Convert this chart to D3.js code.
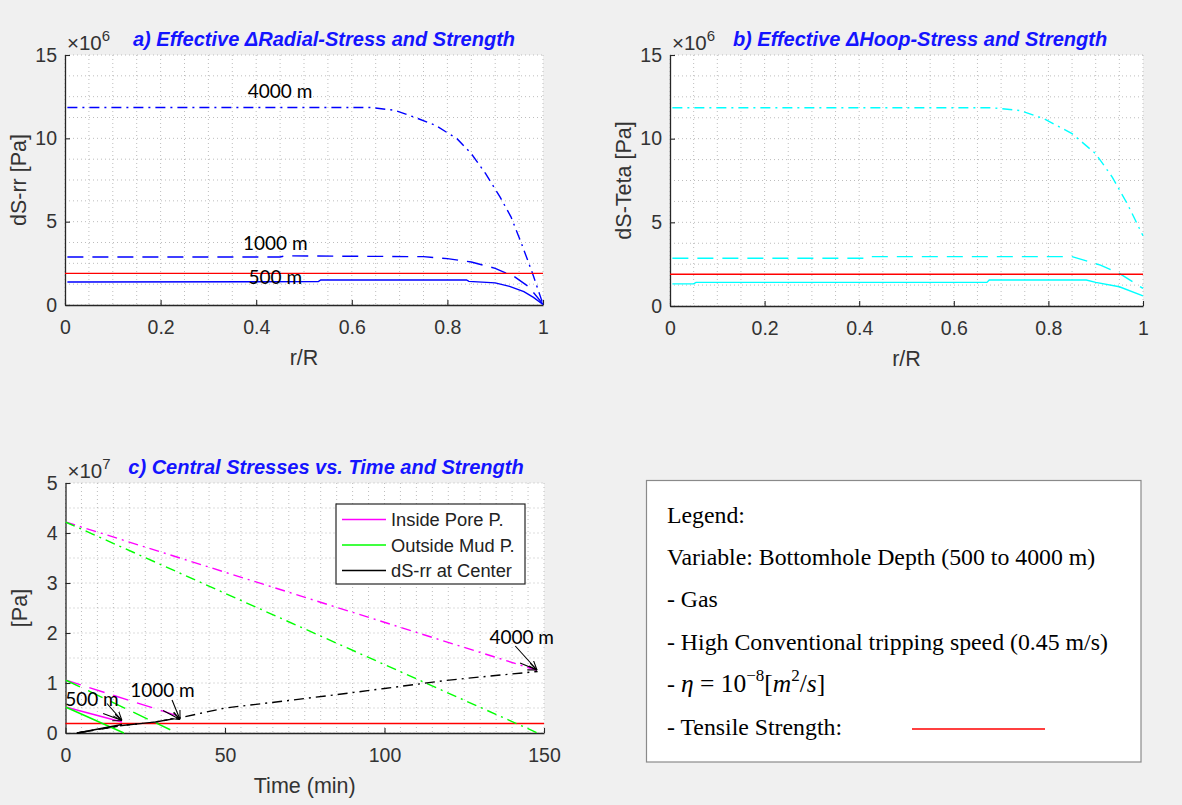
<!DOCTYPE html>
<html><head><meta charset="utf-8">
<script src="https://cdn.jsdelivr.net/npm/d3@7"></script>
<style>body{margin:0;background:#f0f0f0;} svg{display:block}</style>
</head><body><svg id="chart" width="1182" height="805"></svg>
<script>
// ---------- DATA ----------
// Panel a: effective delta radial stress (x1e6 Pa) vs r/R
const rRad4000 = [0.005, 0.64, 0.69, 0.73, 0.775, 0.82, 0.85, 0.88, 0.91, 0.933, 0.955, 0.978, 1.0];
const sRad4000 = [11.85, 11.85, 11.68, 11.28, 10.78, 9.98, 9.08, 7.88, 6.49, 5.29, 3.69, 1.9, 0.05];
const rRad1000 = [0.005, 0.45, 0.46, 0.75, 0.8, 0.85, 0.9, 0.94, 0.97, 1.0];
const sRad1000 = [2.88, 2.88, 2.95, 2.9, 2.78, 2.58, 2.2, 1.7, 1.1, 0.05];
const rRad500  = [0.005, 0.53, 0.535, 0.84, 0.845, 0.9, 0.93, 0.96, 0.98, 1.0];
const sRad500  = [1.38, 1.40, 1.50, 1.50, 1.42, 1.33, 1.12, 0.80, 0.46, 0.03];
// Panel b: effective delta hoop stress (x1e6 Pa) vs r/R
const rHoop4000 = [0.005, 0.68, 0.74, 0.79, 0.85, 0.9, 0.935, 0.967, 1.0];
const sHoop4000 = [11.85, 11.85, 11.68, 11.2, 10.3, 9.1, 7.7, 6.1, 4.2];
const rHoop1000 = [0.005, 0.42, 0.425, 0.85, 0.875, 0.91, 0.95, 1.0];
const sHoop1000 = [2.85, 2.85, 2.95, 2.95, 2.74, 2.44, 1.95, 1.05];
const rHoop500  = [0.005, 0.05, 0.055, 0.67, 0.675, 0.88, 0.9, 0.95, 1.0];
const sHoop500  = [1.32, 1.32, 1.41, 1.41, 1.55, 1.55, 1.41, 1.15, 0.6];
// Tensile strength (x1e6 Pa)
const tensileStrength = 1.9;
// Panel c: central stresses (x1e7 Pa) vs time (min)
const tPore4000 = [0, 148];   const pPore4000 = [4.22, 1.25];
const tMud4000  = [0, 148];   const pMud4000  = [4.22, 0];
const tRr4000 = [3.5, 17.7, 28.2, 36.3, 50, 70, 84, 100, 119, 130, 148];
const pRr4000 = [0, 0.15, 0.22, 0.31, 0.5, 0.65, 0.76, 0.89, 1.05, 1.12, 1.23];
const tPore1000 = [0, 36.3];  const pPore1000 = [1.06, 0.32];
const tMud1000  = [0, 35];    const pMud1000  = [1.06, 0];
const tRr1000 = [3.7, 17.7, 28.2, 36];  const pRr1000 = [0, 0.15, 0.22, 0.31];
const tPore500 = [0, 17.7];   const pPore500 = [0.52, 0.22];
const tMud500  = [0, 18.3];   const pMud500  = [0.52, 0];
const tRr500 = [3.7, 17.7];   const pRr500 = [0, 0.17];
// Ticks
const rTicks = [0, 0.2, 0.4, 0.6, 0.8, 1];
const stressTicks = [0, 5, 10, 15];
const timeTicks = [0, 50, 100, 150];
const paTicks = [0, 1, 2, 3, 4, 5];
const legendEntries = ["Inside Pore P.", "Outside Mud P.", "dS-rr at Center"];
const depthLabels = ["500 m", "1000 m", "4000 m"];

// ---------- DRAWING ----------
const svg = d3.select("#chart");
svg.append("rect").attr("width", 1182).attr("height", 805).attr("fill", "#f0f0f0");
const AX = "#262626";
const TXT = "#333";
const FONT = "'Liberation Sans', Arial, sans-serif";
const DASH = {solid: null, dashed: "16,9", dashdot: "10,5,2,5"};

function zip(xs, ys) { return xs.map((x, i) => [x, ys[i]]); }

function panel(o) {
  const g = svg.append("g");
  const x = d3.scaleLinear().domain(o.xd).range([o.l, o.r]);
  const y = d3.scaleLinear().domain(o.yd).range([o.b, o.t]);
  g.append("rect").attr("x", o.l).attr("y", o.t).attr("width", o.r - o.l).attr("height", o.b - o.t).attr("fill", "#fff");
  const grid = g.append("g").attr("stroke", "#b5b5b5").attr("stroke-width", 0.9).attr("stroke-dasharray", "1,3");
  d3.range(o.xd[0], o.xd[1] + o.xm / 2, o.xm).forEach(v => {
    grid.append("line").attr("x1", x(v)).attr("x2", x(v)).attr("y1", o.t).attr("y2", o.b);
  });
  d3.range(o.yd[0], o.yd[1] + o.ym / 2, o.ym).forEach(v => {
    grid.append("line").attr("x1", o.l).attr("x2", o.r).attr("y1", y(v)).attr("y2", y(v));
  });
  const xa = g.append("g").attr("transform", `translate(0,${o.b})`)
    .call(d3.axisBottom(x).tickValues(o.xt).tickSizeInner(-5).tickSizeOuter(0).tickPadding(15).tickFormat(d => String(d)));
  const ya = g.append("g").attr("transform", `translate(${o.l},0)`)
    .call(d3.axisLeft(y).tickValues(o.yt).tickSizeInner(-5).tickSizeOuter(0).tickPadding(8).tickFormat(d => String(d)));
  [xa, ya].forEach(a => {
    a.select(".domain").attr("stroke", AX).attr("stroke-width", 1.3);
    a.selectAll(".tick line").attr("stroke", AX).attr("stroke-width", 1.1);
    a.selectAll(".tick text").attr("fill", TXT).attr("font-size", 19.5).attr("font-family", FONT);
  });
  // exponent
  const ex = g.append("text").attr("x", o.l + 2).attr("y", o.t - 5).attr("fill", TXT)
    .attr("font-family", FONT).attr("font-size", 20.5);
  ex.append("tspan").text("×10");
  ex.append("tspan").attr("dy", -9).attr("font-size", 15).text(o.exp);
  // title
  g.append("text").attr("x", o.tx).attr("y", o.t - 9).attr("text-anchor", "middle")
    .attr("fill", "#1414ff").attr("font-family", FONT).attr("font-size", 20)
    .attr("font-weight", "bold").attr("font-style", "italic").text(o.title);
  // labels
  g.append("text").attr("x", (o.l + o.r) / 2).attr("y", o.b + 60).attr("text-anchor", "middle")
    .attr("fill", TXT).attr("font-family", FONT).attr("font-size", 21.5).text(o.xl);
  g.append("text").attr("transform", `translate(${o.l - 39},${(o.t + o.b) / 2}) rotate(-90)`)
    .attr("text-anchor", "middle").attr("fill", TXT).attr("font-family", FONT).attr("font-size", 21.5).text(o.yl);
  const line = d3.line().x(d => x(d[0])).y(d => y(d[1]));
  const plot = g.append("g");
  function series(pts, color, style, w) {
    plot.append("path").attr("d", line(pts)).attr("fill", "none").attr("stroke", color)
      .attr("stroke-width", w || 1.4).attr("stroke-dasharray", DASH[style]);
  }
  return {g, x, y, series, plot};
}

// Arrow marker
svg.append("defs").append("marker").attr("id", "arr").attr("viewBox", "0 0 10 10")
  .attr("refX", 10).attr("refY", 5).attr("markerWidth", 9).attr("markerHeight", 9)
  .attr("markerUnits", "userSpaceOnUse").attr("orient", "auto")
  .append("path").attr("d", "M0,1 L10,5 L0,9").attr("fill", "none").attr("stroke", "#000").attr("stroke-width", 1.2);

// Panel a
const pa = panel({l: 65, r: 543, t: 55, b: 305, xd: [0, 1], yd: [0, 15], xt: rTicks, yt: stressTicks,
  xm: 0.05, ym: 1.25, exp: "6", tx: 324, title: "a) Effective ΔRadial-Stress and Strength",
  xl: "r/R", yl: "dS-rr [Pa]"});
pa.series(zip(rRad4000, sRad4000), "#0000ff", "dashdot");
pa.series(zip(rRad1000, sRad1000), "#0000ff", "dashed");
pa.series(zip(rRad500, sRad500), "#0000ff", "solid");
pa.series([[0, tensileStrength], [1, tensileStrength]], "#ff0000", "solid");
const annA = [[0.45, 12.45, depthLabels[2]], [0.44, 3.3, depthLabels[1]], [0.44, 1.27, depthLabels[0]]];
annA.forEach(a => pa.plot.append("text").attr("x", pa.x(a[0])).attr("y", pa.y(a[1])).attr("text-anchor", "middle")
  .attr("font-family", "Lato, 'Open Sans', sans-serif").attr("font-size", 19).attr("fill", "#000").text(a[2]));

// Panel b
const pb = panel({l: 670, r: 1143, t: 55, b: 306, xd: [0, 1], yd: [0, 15], xt: rTicks, yt: stressTicks,
  xm: 0.05, ym: 1.25, exp: "6", tx: 920, title: "b) Effective ΔHoop-Stress and Strength",
  xl: "r/R", yl: "dS-Teta [Pa]"});
pb.series(zip(rHoop4000, sHoop4000), "#00ffff", "dashdot");
pb.series(zip(rHoop1000, sHoop1000), "#00ffff", "dashed");
pb.series(zip(rHoop500, sHoop500), "#00ffff", "solid");
pb.series([[0, tensileStrength], [1, tensileStrength]], "#ff0000", "solid");

// Panel c
const pc = panel({l: 65.5, r: 544, t: 483, b: 733, xd: [0, 150], yd: [0, 5], xt: timeTicks, yt: paTicks,
  xm: 5, ym: 0.5, exp: "7", tx: 326, title: "c) Central Stresses vs. Time and Strength",
  xl: "Time (min)", yl: "[Pa]"});
pc.series([[0, tensileStrength / 10], [150, tensileStrength / 10]], "#ff0000", "solid");
pc.series(zip(tPore4000, pPore4000), "#ff00ff", "dashdot");
pc.series(zip(tMud4000, pMud4000), "#00ff00", "dashdot");
pc.series(zip(tRr4000, pRr4000), "#000000", "dashdot");
pc.series(zip(tPore1000, pPore1000), "#ff00ff", "dashed");
pc.series(zip(tMud1000, pMud1000), "#00ff00", "dashed");
pc.series(zip(tRr1000, pRr1000), "#000000", "dashed");
pc.series(zip(tPore500, pPore500), "#ff00ff", "solid");
pc.series(zip(tMud500, pMud500), "#00ff00", "solid");
pc.series(zip(tRr500, pRr500), "#000000", "solid");
// annotations with arrows (data coords)
const annC = [
  {lab: depthLabels[2], lx: 143, ly: 1.78, tip: [147.8, 1.26], tails: [[141, 1.74], [142.5, 1.40]]},
  {lab: depthLabels[1], lx: 30.4, ly: 0.72, tip: [35.9, 0.27], tails: [[30.6, 0.45], [33.4, 0.66]]},
  {lab: depthLabels[0], lx: 8.3, ly: 0.54, tip: [17.7, 0.25], tails: [[11.8, 0.39], [13, 0.59]]}
];
annC.forEach(a => {
  a.tails.forEach(t => pc.plot.append("line").attr("x1", pc.x(t[0])).attr("y1", pc.y(t[1]))
    .attr("x2", pc.x(a.tip[0])).attr("y2", pc.y(a.tip[1])).attr("stroke", "#000").attr("stroke-width", 1.1)
    .attr("marker-end", "url(#arr)"));
  pc.plot.append("text").attr("x", pc.x(a.lx)).attr("y", pc.y(a.ly)).attr("text-anchor", "middle")
    .attr("font-family", "Lato, 'Open Sans', sans-serif").attr("font-size", 19).attr("fill", "#000").text(a.lab);
});
// legend in c
const lg = pc.g.append("g");
lg.append("rect").attr("x", 336).attr("y", 504).attr("width", 189).attr("height", 80)
  .attr("fill", "#fff").attr("stroke", AX).attr("stroke-width", 1.2);
const legColors = ["#ff00ff", "#00ff00", "#000000"];
legendEntries.forEach((e, i) => {
  const yy = 519.5 + i * 25.5;
  lg.append("line").attr("x1", 342).attr("x2", 386).attr("y1", yy).attr("y2", yy).attr("stroke", legColors[i]).attr("stroke-width", 1.3);
  lg.append("text").attr("x", 391).attr("y", yy + 6.5).attr("font-family", FONT).attr("font-size", 18.3)
    .attr("fill", "#222").text(e);
});

// Right text legend box
const box = svg.append("g");
box.append("rect").attr("x", 646.5).attr("y", 480.5).attr("width", 494.5).attr("height", 281.5)
  .attr("fill", "#fff").attr("stroke", "#8a8a8a").attr("stroke-width", 1.2);
const SERIF = "'Liberation Serif', 'Times New Roman', serif";
const FS = 23.8;
const lines = ["Legend:", "Variable: Bottomhole Depth (500 to 4000 m)", "- Gas", "- High Conventional tripping speed (0.45 m/s)"];
const ys = [523, 565, 607, 650, 692, 735];
lines.forEach((t, i) => box.append("text").attr("x", 667).attr("y", ys[i]).attr("font-family", SERIF)
  .attr("font-size", FS).attr("fill", "#000").text(t));
const eta = box.append("text").attr("x", 667).attr("y", ys[4]).attr("font-family", SERIF).attr("font-size", 25.5).attr("fill", "#000");
eta.append("tspan").attr("font-size", FS).text("- ");
eta.append("tspan").attr("font-style", "italic").text("η");
eta.append("tspan").text(" =  10");
eta.append("tspan").attr("dy", -11).attr("font-size", 17).text("−8");
eta.append("tspan").attr("dy", 11).text("[");
eta.append("tspan").attr("font-style", "italic").text("m");
eta.append("tspan").attr("dy", -11).attr("font-size", 17).text("2");
eta.append("tspan").attr("dy", 11).text("/");
eta.append("tspan").attr("font-style", "italic").text("s");
eta.append("tspan").text("]");
box.append("text").attr("x", 667).attr("y", ys[5]).attr("font-family", SERIF).attr("font-size", FS)
  .attr("fill", "#000").text("- Tensile Strength:");
box.append("line").attr("x1", 912).attr("x2", 1045).attr("y1", 729).attr("y2", 729).attr("stroke", "#ff0000").attr("stroke-width", 1.5);
</script></body></html>
